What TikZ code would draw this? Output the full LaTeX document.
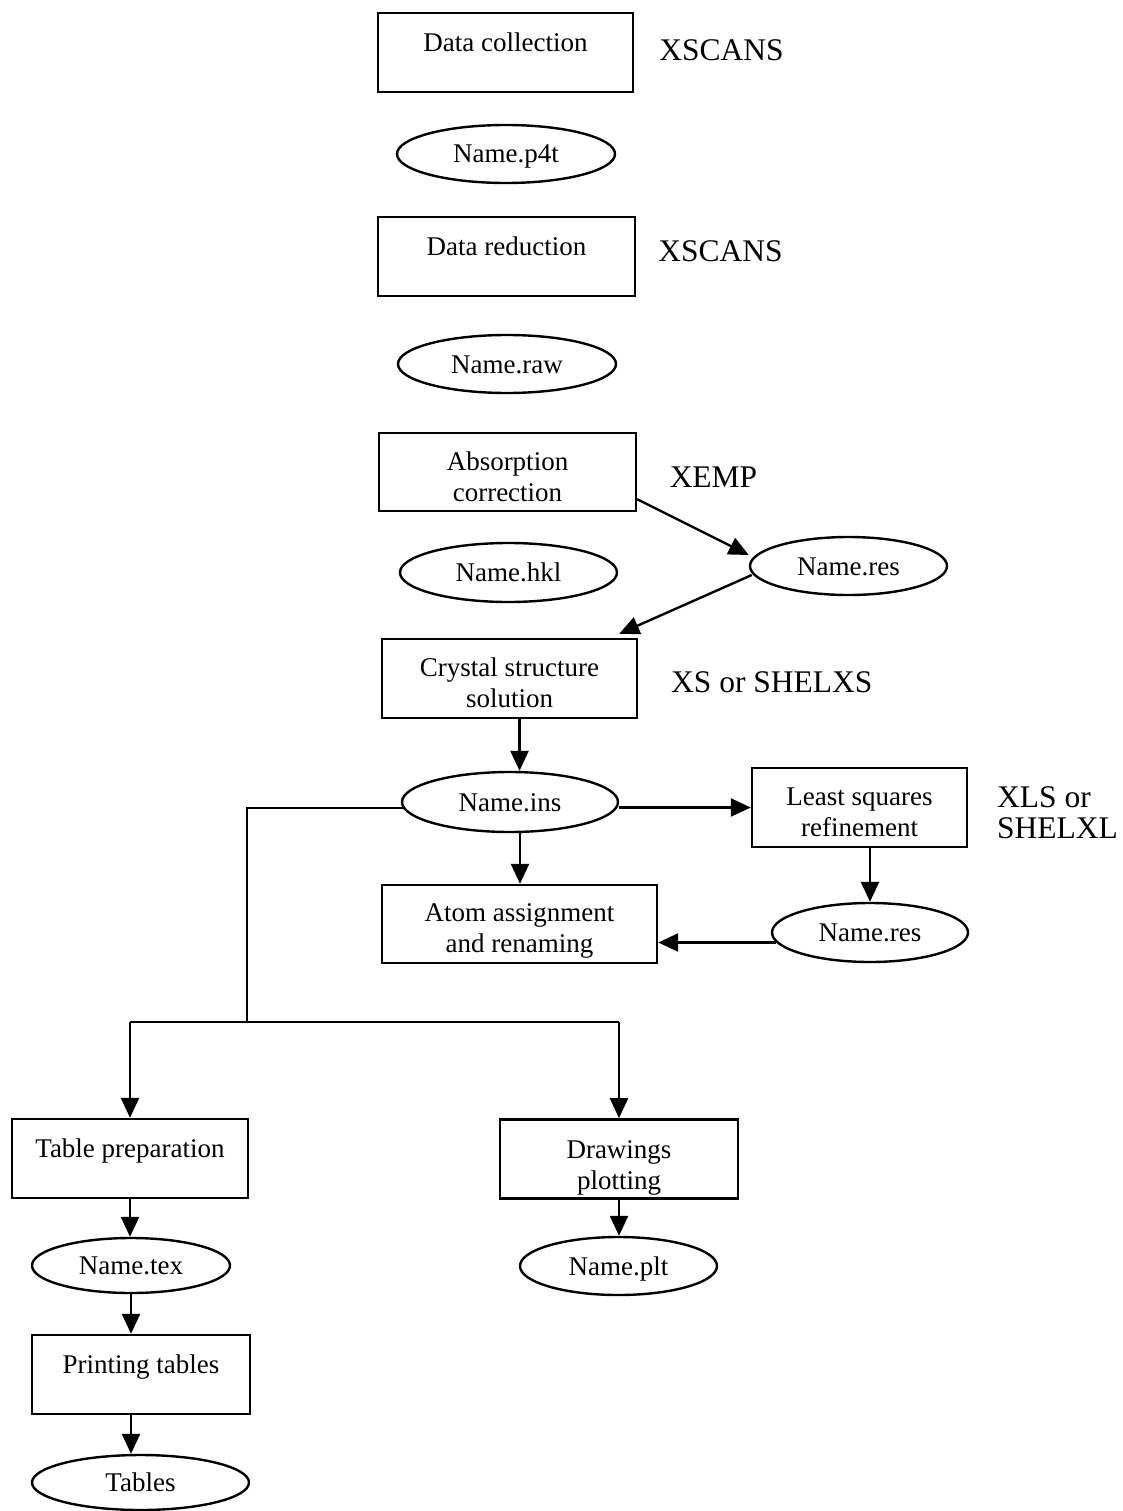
\documentclass[tikz,border=0pt]{standalone}
\usepackage{fontspec}
\setmainfont{Liberation Serif}
\usetikzlibrary{shapes.geometric,arrows.meta,calc}
\begin{document}
\begin{tikzpicture}[x=1pt,y=-1pt,
  box/.style={draw, line width=2.4pt, rectangle, inner sep=0pt, align=center,
    font=\fontsize{27}{31}\selectfont},
  one/.style={text height=21.7pt, text depth=23pt},
  oval/.style={draw, ellipse, line width=2.4pt, inner sep=0pt,
    text height=21.7pt, text depth=3.7pt,
    font=\fontsize{27}{31}\selectfont},
  side/.style={font=\fontsize{31.5}{31}\selectfont, inner sep=0pt, align=left},
  arr/.style={line width=2.4pt, -{Triangle[length=20pt,width=18pt]}},
  ln/.style={line width=2.4pt}]
\fill[white] (0,0) rectangle (1123,1511);
\useasboundingbox (0,0) rectangle (1123,1511);

% boxes
\node[box, one, minimum width=255pt, minimum height=79pt] (dc) at (505.5,52.5) {Data collection};
\node[box, one, minimum width=257pt, minimum height=79pt] (dr) at (506.5,256.5) {Data reduction};
\node[box, minimum width=257pt, minimum height=78pt] (abs) at (507.5,472) {\rule{0pt}{37pt}Absorption\\correction\strut};
\node[box, minimum width=255pt, minimum height=79pt] (cs) at (509.5,678.5) {\rule{0pt}{37pt}Crystal structure\\solution\strut};
\node[box, minimum width=215pt, minimum height=79pt] (lsq) at (859.5,807.5) {\rule{0pt}{37pt}Least squares\\refinement\strut};
\node[box, minimum width=275pt, minimum height=78pt] (atom) at (519.5,924) {\rule{0pt}{35pt}Atom assignment\\and renaming\strut};
\node[box, one, minimum width=236pt, minimum height=79pt] (tp) at (130,1158.5) {Table preparation};
\node[box, minimum width=238pt, minimum height=78pt] (dp) at (619,1159) {\rule{0pt}{39pt}Drawings\\plotting\strut};
\node[box, one, minimum width=218pt, minimum height=79pt] (pt) at (141,1374.5) {Printing tables};

% ellipses
\node[oval, minimum width=218pt, minimum height=58pt] (p4t) at (506,154) {Name.p4t};
\node[oval, minimum width=218pt, minimum height=58pt] (raw) at (507,364) {Name.raw};
\node[oval, minimum width=217pt, minimum height=59pt] (hkl) at (508.5,572.5) {Name.hkl};
\node[oval, minimum width=197pt, minimum height=58pt] (res1) at (848.5,566) {Name.res};
\node[oval, minimum width=216pt, minimum height=60pt] (ins) at (510,802) {Name.ins};
\node[oval, minimum width=196pt, minimum height=59pt] (res2) at (870,932.5) {Name.res};
\node[oval, minimum width=198pt, minimum height=55pt] (tex) at (131,1265.5) {Name.tex};
\node[oval, minimum width=197pt, minimum height=58pt] (plt) at (618.5,1266) {Name.plt};
\node[oval, minimum width=217pt, minimum height=55pt] (tab) at (140.5,1482.5) {Tables};

% program labels
\node[side] (xs1) at (721.5,50) {XSCANS};
\node[side] (xs2) at (720.5,251) {XSCANS};
\node[side] (xemp) at (713.5,477) {XEMP};
\node[side, anchor=west] (xss) at (671,682) {XS or SHELXS};
\node[side, anchor=west] (xls) at (997,812.5) {XLS or\\SHELXL};

% connectors
\draw[arr] ([yshift=13pt]abs.south east) -- ([yshift=11pt]res1.west);
\draw[arr] ([xshift=3pt,yshift=-9pt]res1.west) -- ([xshift=-19pt,yshift=4pt]cs.north east);
\coordinate (c1) at ([xshift=10pt]cs.south);
\draw[arr] (c1) -- (c1 |- ins.north);
\coordinate (i1) at (ins.east |- lsq.west);
\draw[arr] (i1) -- (lsq.west);
\coordinate (i2) at ([xshift=10pt]ins.south);
\draw[arr] (i2) -- (i2 |- atom.north);
\draw[arr] (res2.north |- lsq.south) -- (res2.north);
\coordinate (r2) at ([xshift=5pt,yshift=-10pt]res2.west);
\draw[arr] (r2) -- (r2 -| atom.east);

\coordinate (iw) at ([xshift=2pt,yshift=-6pt]ins.west);
\coordinate (j1) at (247,1022);
\coordinate (jl) at (130,1022);
\coordinate (jr) at (619,1022);
\draw[ln] (iw) -| (j1);
\draw[ln] (jl) -- (jr);
\draw[arr] (jl) -- (jl |- tp.north);
\draw[arr] (jr) -- (jr |- dp.north);
\draw[arr] (tp.south) -- (tp.south |- tex.north);
\draw[arr] (tex.south) -- (tex.south |- pt.north);
\draw[arr] (tex.south |- pt.south) -- (tex.south |- tab.north);
\draw[arr] (dp.south) -- (dp.south |- plt.north);
\end{tikzpicture}
\end{document}
